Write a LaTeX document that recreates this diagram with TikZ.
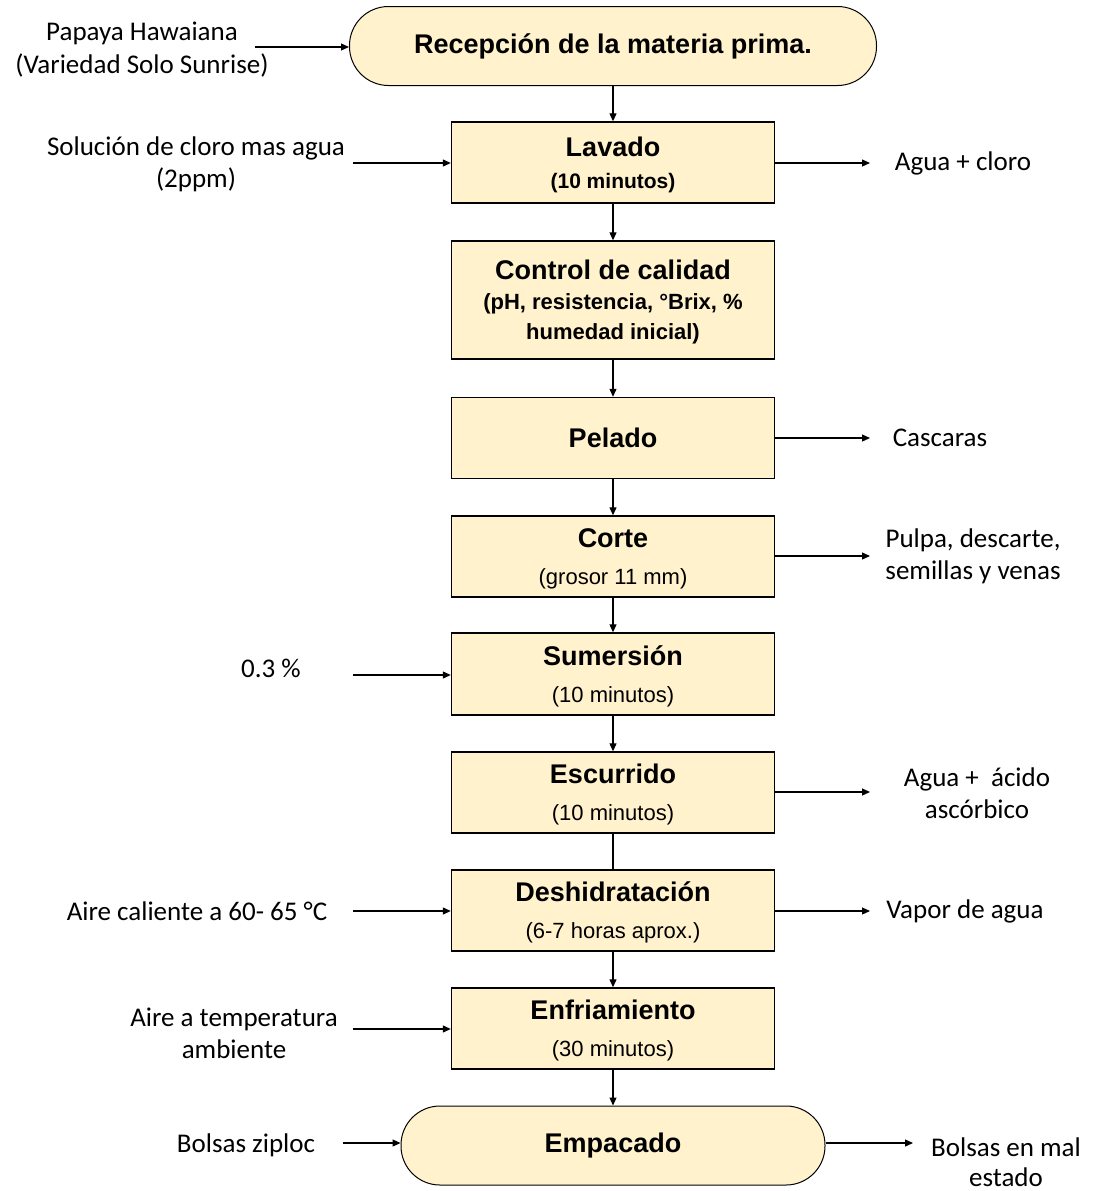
\documentclass[tikz,border=0pt]{standalone}
\usepackage{fontspec}
\setmainfont{Liberation Sans}
\newfontfamily\calfont{Carlito}
\usetikzlibrary{arrows.meta}
\definecolor{boxfill}{HTML}{FFF2CC}
\newcommand{\boxtitle}[1]{{\fontsize{27}{32}\selectfont\bfseries\rule{0pt}{24pt}#1}}
\begin{document}
\begin{tikzpicture}[x=1pt,y=-1pt,
  proc/.style={draw, line width=1.4pt, fill=boxfill, minimum width=323pt, minimum height=81pt, inner sep=0pt, align=center, font=\fontsize{22}{37}\selectfont},
  term/.style={draw, line width=1pt, fill=boxfill, rounded corners=39pt, minimum height=79pt, inner sep=0pt, align=center},
  arr/.style={-{Triangle[length=8pt,width=7pt]}, line width=1.2pt},
  link/.style={line width=1.2pt},
  lbl/.style={font=\calfont\fontsize{27}{33}\selectfont, align=center, inner sep=0pt},
]
\useasboundingbox (0,0) rectangle (1092,1191);

% main process nodes
\node[term, minimum width=527pt] (rec) at (613,46) {\fontsize{27}{32}\selectfont\bfseries Recepción de la materia prima.};
\node[proc, font=\fontsize{21}{32}\selectfont] (lav) at (613,162.5) {\boxtitle{Lavado}\\{\bfseries (10 minutos)}};
\node[proc, minimum height=118pt, font=\fontsize{22}{30}\selectfont] (ctl) at (613,300) {{\fontsize{27}{32}\selectfont\bfseries\rule{0pt}{23pt}Control de calidad}\\{\bfseries (pH, resistencia, °Brix, \%}\\{\bfseries humedad inicial)}};
\node[proc] (pel) at (613,438) {{\fontsize{27}{32}\selectfont\bfseries Pelado}};
\node[proc] (cor) at (613,556.5) {\boxtitle{Corte}\\(grosor 11 mm)};
\node[proc, minimum height=82pt] (sum) at (613,674) {\boxtitle{Sumersión}\\(10 minutos)};
\node[proc] (esc) at (613,792.5) {\boxtitle{Escurrido}\\(10 minutos)};
\node[proc] (des) at (613,910.5) {\boxtitle{Deshidratación}\\(6-7 horas aprox.)};
\node[proc] (enf) at (613,1028.5) {\boxtitle{Enfriamiento}\\(30 minutos)};
\node[term, minimum width=424pt] (emp) at (613,1145.5) {\fontsize{27}{32}\selectfont\bfseries Empacado};

% vertical connectors
\draw[arr] (rec) -- (lav);
\draw[arr] (lav) -- (ctl);
\draw[arr] (ctl) -- (pel);
\draw[arr] (pel) -- (cor);
\draw[arr] (cor) -- (sum);
\draw[arr] (sum) -- (esc);
\draw[link] (esc) -- (des);
\draw[arr] (des) -- (enf);
\draw[arr] (enf) -- (emp);

% side labels
\node[lbl] (lpap) at (142,50) {Papaya Hawaiana\\(Variedad Solo Sunrise)};
\node[lbl] (lsol) at (196,164) {Solución de cloro mas agua\\[-1pt](2ppm)};
\node[lbl] (lagc) at (963,163) {Agua + cloro};
\node[lbl] (lcas) at (940,438) {Cascaras};
\node[lbl] (lpul) at (973,556) {Pulpa, descarte,\\[-1pt]semillas y venas};
\node[lbl] (lpct) at (271,668) {0.3 \%};
\node[lbl] (laga) at (977,793) {Agua +\ \ ácido\\[-1pt]ascórbico};
\node[lbl] (laic) at (197,911) {Aire caliente a 60- 65 °C};
\node[lbl] (lvap) at (965,911) {Vapor de agua};
\node[lbl] (lait) at (234,1033) {Aire a temperatura\\[-1pt]ambiente};
\node[lbl] (lbzp) at (246,1145) {Bolsas ziploc};
\node[lbl] (lbmal) at (1006,1162) {Bolsas en mal\\[-3pt]estado};

% free ends of side connectors
\coordinate (i1) at (255,47);
\coordinate (i2) at (353,163);
\coordinate (o2) at (870,163);
\coordinate (o4) at (870,438);
\coordinate (o5) at (870,556);
\coordinate (i6) at (353,675);
\coordinate (o7) at (870,792);
\coordinate (i8) at (353,911);
\coordinate (o8) at (870,911);
\coordinate (i9) at (353,1029);
\coordinate (i10) at (343,1143);
\coordinate (o10) at (913,1143);

\draw[arr] (i1) -- (i1 -| rec.west);
\draw[arr] (i2) -- (i2 -| lav.west);
\draw[arr] (o2 -| lav.east) -- (o2);
\draw[arr] (o4 -| pel.east) -- (o4);
\draw[arr] (o5 -| cor.east) -- (o5);
\draw[arr] (i6) -- (i6 -| sum.west);
\draw[arr] (o7 -| esc.east) -- (o7);
\draw[arr] (i8) -- (i8 -| des.west);
\draw[arr] (o8 -| des.east) -- (o8);
\draw[arr] (i9) -- (i9 -| enf.west);
\draw[arr] (i10) -- (i10 -| emp.west);
\draw[arr] (o10 -| emp.east) -- (o10);
\end{tikzpicture}
\end{document}
